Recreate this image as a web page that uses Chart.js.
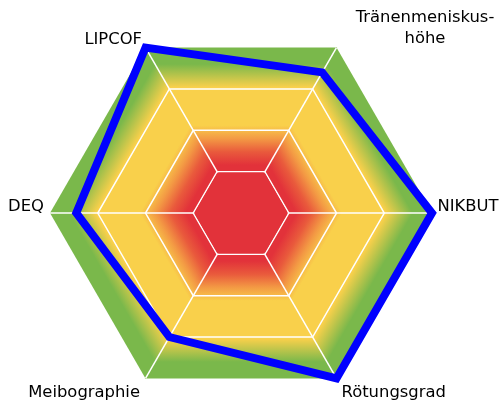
<!DOCTYPE html>
<html><head><meta charset="utf-8">
<script src="https://cdn.jsdelivr.net/npm/chart.js@4"></script>
<style>html,body{margin:0;padding:0;background:#fff}#wrap{width:501px;height:405px;position:relative}</style>
</head><body><div id="wrap"><canvas id="c"></canvas></div>
<script>
// ---- data ----
const categories = ['NIKBUT', 'Rötungsgrad', 'Meibographie', 'DEQ', 'LIPCOF', ['Tränenmeniskus-', 'höhe']];
const values = [4, 4, 3, 3.45, 4, 3.4];
const scaleMin = 0;
const scaleMax = 4;
const scaleStep = 1;
const innerCoreValue = 1;

// ---- background zones (fraction of outer radius) ----
const zoneStops = [0, 0.29, 0.37, 0.45, 0.53, 0.76, 0.9, 1];
const zoneColors = ['#e2323a', '#e2323a', '#e95a3c', '#f39a44', '#f9d04b', '#f9d04b', '#7ab84b', '#7ab84b'];

// ---- label placement relative to each outer vertex ----
const labelLayout = [
  {align: 'left',   dx: 5.5,  dy: -2.5},
  {align: 'left',   dx: 5,    dy: 18.6},
  {align: 'right',  dx: -5.5, dy: 18.6},
  {align: 'right',  dx: -6,   dy: -2.5},
  {align: 'right',  dx: -3.5, dy: -3.6},
  {align: 'center', dx: 88.5, dy: -26, lineHeight: 21.5}
];
const labelFont = '16.4px "DejaVu Sans", sans-serif';

const zonePlugin = {
  id: 'zones',
  beforeDraw(chart) {
    const s = chart.scales.r, ctx = chart.ctx;
    const n = chart.data.labels.length;
    const R = s.getDistanceFromCenterForValue(scaleMax);
    const cx = s.xCenter, cy = s.yCenter;
    for (let i = 0; i < n; i++) {
      const a = s.getPointPosition(i, R), b = s.getPointPosition((i + 1) % n, R);
      const mx = (a.x + b.x) / 2, my = (a.y + b.y) / 2;
      const g = ctx.createLinearGradient(cx, cy, mx, my);
      zoneStops.forEach((st, k) => g.addColorStop(st, zoneColors[k]));
      ctx.save();
      ctx.beginPath();
      ctx.moveTo(cx, cy); ctx.lineTo(a.x, a.y); ctx.lineTo(b.x, b.y); ctx.closePath();
      ctx.fillStyle = g; ctx.fill();
      ctx.beginPath();
      ctx.moveTo(a.x, a.y); ctx.lineTo(cx, cy); ctx.lineTo(b.x, b.y);
      ctx.strokeStyle = g; ctx.lineWidth = 1; ctx.stroke();
      ctx.restore();
    }
  },
  beforeDatasetsDraw(chart) {
    // solid core: hide the spokes inside the innermost ring
    const s = chart.scales.r, ctx = chart.ctx;
    const n = chart.data.labels.length;
    const r1 = s.getDistanceFromCenterForValue(innerCoreValue) - 0.9;
    ctx.save();
    ctx.beginPath();
    for (let i = 0; i < n; i++) {
      const p = s.getPointPosition(i, r1);
      if (i === 0) ctx.moveTo(p.x, p.y); else ctx.lineTo(p.x, p.y);
    }
    ctx.closePath();
    ctx.fillStyle = zoneColors[0];
    ctx.fill();
    ctx.restore();
  }
};

const labelPlugin = {
  id: 'vertexLabels',
  afterDraw(chart) {
    const s = chart.scales.r, ctx = chart.ctx;
    const R = s.getDistanceFromCenterForValue(scaleMax);
    ctx.save();
    ctx.font = labelFont;
    ctx.fillStyle = '#000';
    ctx.textBaseline = 'alphabetic';
    chart.data.labels.forEach((lab, i) => {
      const p = s.getPointPosition(i, R);
      const L = labelLayout[i];
      const lines = Array.isArray(lab) ? lab : [lab];
      ctx.textAlign = L.align;
      lines.forEach((t, k) => {
        ctx.fillText(t, p.x + L.dx, p.y + L.dy + k * (L.lineHeight || 20));
      });
    });
    ctx.restore();
  }
};

new Chart(document.getElementById('c'), {
  type: 'radar',
  data: {
    labels: categories,
    datasets: [{
      data: values,
      borderColor: '#0000ff',
      borderWidth: 8,
      borderJoinStyle: 'miter',
      backgroundColor: 'rgba(0,0,0,0)',
      fill: false,
      pointRadius: 0,
      pointHoverRadius: 0
    }]
  },
  options: {
    responsive: true,
    maintainAspectRatio: false,
    animation: false,
    layout: {padding: {left: 0, right: 19, top: 22, bottom: 1}},
    plugins: {legend: {display: false}, tooltip: {enabled: false}},
    scales: {
      r: {
        min: scaleMin,
        max: scaleMax,
        startAngle: 90,
        ticks: {display: false, stepSize: scaleStep},
        pointLabels: {display: false},
        grid: {
          color: (c) => (c.tick && c.tick.value >= scaleMax) ? 'rgba(0,0,0,0)' : '#ffffff',
          lineWidth: 1.5
        },
        angleLines: {color: '#ffffff', lineWidth: 1.5}
      }
    }
  },
  plugins: [zonePlugin, labelPlugin]
});
</script>
</body></html>
